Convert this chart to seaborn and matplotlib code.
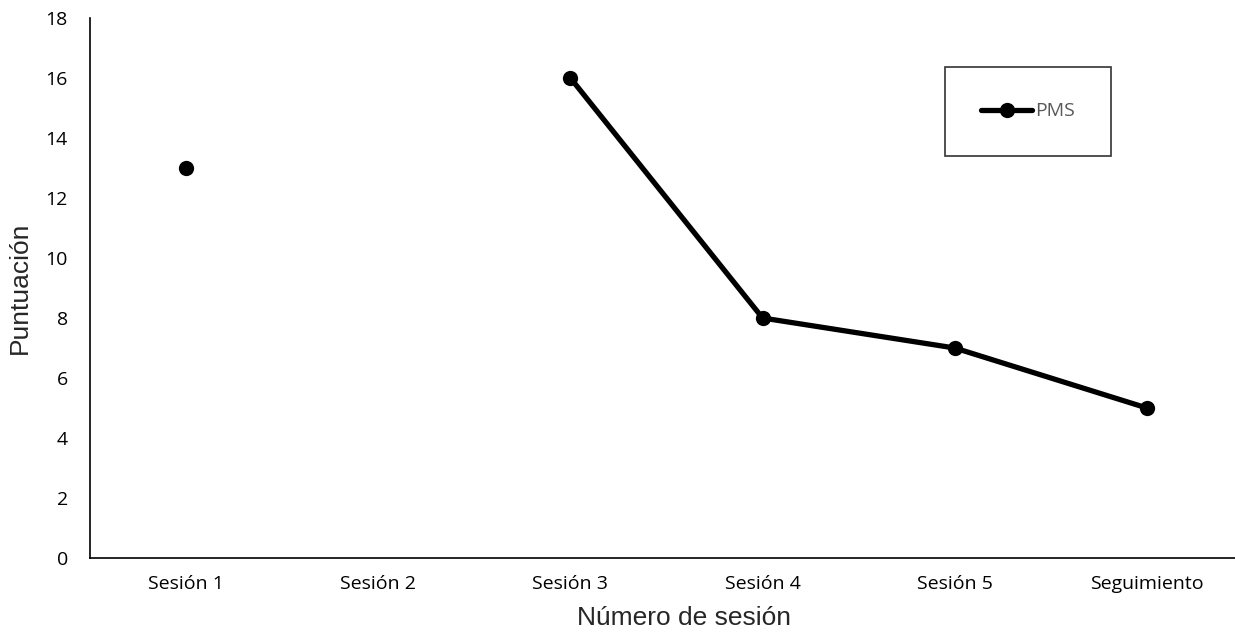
import matplotlib
matplotlib.use("Agg")
import matplotlib.pyplot as plt
import numpy as np
import pandas as pd
import seaborn as sns

sesiones = ["Sesión 1", "Sesión 2", "Sesión 3", "Sesión 4", "Sesión 5", "Seguimiento"]
pms = [13, np.nan, 16, 8, 7, 5]
y_ticks = [0, 2, 4, 6, 8, 10, 12, 14, 16, 18]

df = pd.DataFrame({"pos": np.arange(len(sesiones)), "sesion": sesiones, "PMS": pms})
# gaps (missing sessions) break the line into separate segments
df["tramo"] = df["PMS"].isna().cumsum()
df = df.dropna()

sns.set_style("white")
plt.rcParams["font.family"] = ["Liberation Sans", "DejaVu Sans"]
tick_font = ["Open Sans", "DejaVu Sans"]

fig = plt.figure(figsize=(12.35, 6.39), dpi=100)
ax = fig.add_axes([90 / 1235, 1 - 558 / 639, 1153 / 1235, (558 - 18) / 639])

sns.lineplot(data=df, x="pos", y="PMS", units="tramo", estimator=None,
             color="black", linewidth=3.8, marker="o", markersize=11,
             markeredgewidth=0, ax=ax)

ax.set_xlim(-0.5, 5.5)
ax.set_ylim(0, 18)
ax.set_xticks(range(len(sesiones)))
ax.set_xticklabels(sesiones, family=tick_font, fontsize=14)
ax.set_yticks(y_ticks)
ax.set_yticklabels([str(v) for v in y_ticks], family=tick_font, fontsize=14)
ax.tick_params(axis="y", length=0, pad=16, colors="black")
ax.tick_params(axis="x", length=0, pad=12, colors="black")
ax.set_xlabel("Número de sesión", fontsize=19)
ax.set_ylabel("Puntuación", fontsize=19)
ax.xaxis.set_label_coords(0.515, -0.088)
ax.yaxis.set_label_coords(-0.05, 0.5)

for s in ["top", "right"]:
    ax.spines[s].set_visible(False)
for s in ["left", "bottom"]:
    ax.spines[s].set_color("black")
    ax.spines[s].set_linewidth(1.2)

handles = ax.get_lines()[:1]
leg = ax.legend(handles, ["PMS"], loc="center",
                bbox_to_anchor=(948 / 1235, 1 - 156 / 639, 160 / 1235, 89 / 639),
                bbox_transform=fig.transFigure, frameon=True, fancybox=False,
                edgecolor="black", handlelength=2.6, handletextpad=0.15,
                borderpad=1.85, borderaxespad=0, prop={"family": tick_font, "size": 14})
leg.get_frame().set_linewidth(1.2)
for t in leg.get_texts():
    t.set_color("#595959")

fig.savefig("out.png", dpi=100)
